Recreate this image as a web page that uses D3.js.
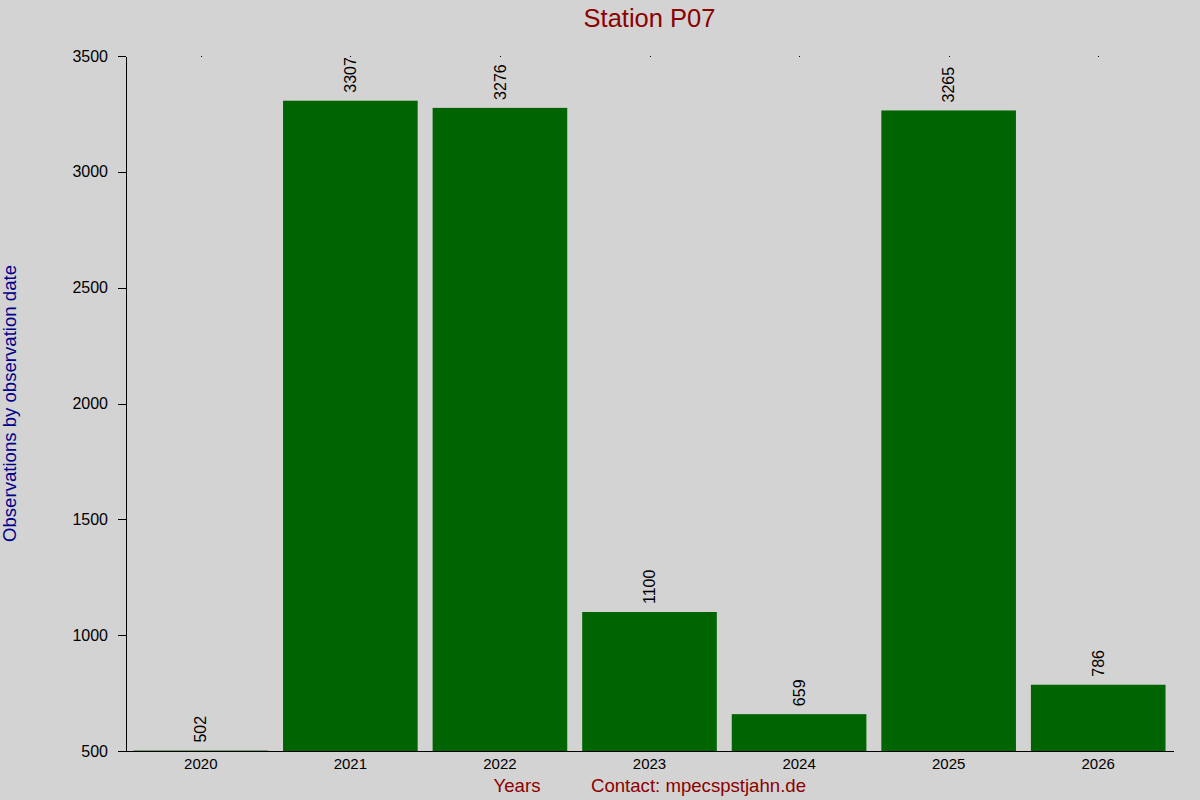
<!DOCTYPE html>
<html>
<head>
<meta charset="utf-8">
<title>Station P07</title>
<script src="https://cdn.jsdelivr.net/npm/d3@7"></script>
<style>
    body { margin: 0; background-color: #d3d3d3; }
    svg { background-color: #d3d3d3; font-family: "Liberation Sans", Arial, sans-serif; }
    .axis path, .axis line { fill: none; stroke: black; shape-rendering: crispEdges; }
    .axis text { fill: black; }
</style>
</head>
<body>
<script>
    // data
    var years = ["2020", "2021", "2022", "2023", "2024", "2025", "2026"];
    var counts = [502, 3307, 3276, 1100, 659, 3265, 786];
    var yTicks = [500, 1000, 1500, 2000, 2500, 3000, 3500];

    var w = 1200, h = 800;
    // plot edges (note: "top" is taken by window.top, so prefixed names)
    var plotLeft = 126, plotRight = 1173, plotTop = 56, plotBottom = 751;

    var svg = d3.select("body").append("svg")
        .attr("width", w)
        .attr("height", h);

    var xScale = d3.scaleBand()
        .domain(years)
        .range([plotLeft, plotRight])
        .paddingInner(0.1)
        .paddingOuter(0.05);

    var yScale = d3.scaleLinear()
        .domain([500, 3500])
        .range([plotBottom, plotTop]);

    // bars
    svg.append("g")
        .selectAll("rect")
        .data(years)
        .enter()
        .append("rect")
        .attr("x", function(d) { return xScale(d); })
        .attr("width", xScale.bandwidth())
        .attr("y", function(d, i) { return yScale(counts[i]); })
        .attr("height", function(d, i) { return plotBottom - yScale(counts[i]); })
        .attr("fill", "#006400");

    // value labels, rotated
    svg.append("g")
        .selectAll("text")
        .data(years)
        .enter()
        .append("text")
        .attr("transform", function(d, i) {
            return "translate(" + (xScale(d) + xScale.bandwidth() / 2) + "," + (yScale(counts[i]) - 8) + ") rotate(-90)";
        })
        .attr("dy", "0.35em")
        .attr("text-anchor", "start")
        .attr("font-size", "16px")
        .attr("fill", "black")
        .text(function(d, i) { return counts[i]; });

    // little marks at the top of each category
    svg.append("g")
        .selectAll("rect")
        .data(years)
        .enter()
        .append("rect")
        .attr("x", function(d) { return Math.round(xScale(d) + xScale.bandwidth() / 2); })
        .attr("y", plotTop)
        .attr("width", 1)
        .attr("height", 1)
        .attr("fill", "black");

    // x axis
    var xAxis = d3.axisBottom(xScale).tickSize(0).tickPadding(7);
    svg.append("g")
        .attr("class", "axis")
        .attr("transform", "translate(0," + plotBottom + ")")
        .call(xAxis)
        .selectAll("text").attr("font-size", "15px");

    // y axis
    var yAxis = d3.axisLeft(yScale).tickValues(yTicks).tickFormat(d3.format("d"))
        .tickSize(8).tickSizeOuter(0).tickPadding(10);
    svg.append("g")
        .attr("class", "axis")
        .attr("transform", "translate(" + plotLeft + ",0)")
        .call(yAxis)
        .selectAll("text").attr("font-size", "16px");

    // title
    svg.append("text")
        .attr("x", (plotLeft + plotRight) / 2)
        .attr("y", 27)
        .attr("text-anchor", "middle")
        .attr("font-size", "25.5px")
        .attr("fill", "#8b0000")
        .text("Station P07");

    // y label
    svg.append("text")
        .attr("transform", "translate(16," + ((plotTop + plotBottom) / 2) + ") rotate(-90)")
        .attr("text-anchor", "middle")
        .attr("font-size", "18.6px")
        .attr("fill", "#00008b")
        .text("Observations by observation date");

    // bottom labels
    svg.append("text")
        .attr("x", 517)
        .attr("y", 792)
        .attr("text-anchor", "middle")
        .attr("font-size", "18.6px")
        .attr("fill", "#8b0000")
        .text("Years");

    svg.append("text")
        .attr("x", 591)
        .attr("y", 792)
        .attr("text-anchor", "start")
        .attr("font-size", "18.6px")
        .attr("fill", "#8b0000")
        .text("Contact: mpecspstjahn.de");
</script>
</body>
</html>
